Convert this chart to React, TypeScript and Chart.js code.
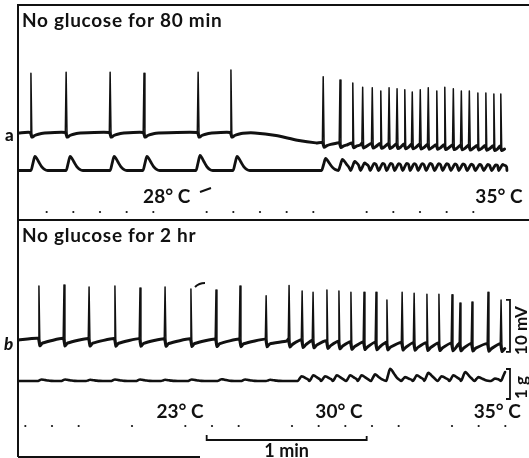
import React, { useEffect, useRef } from 'react';
import { Chart, registerables } from 'chart.js';

Chart.register(...registerables);

// Time in s from start of each record; membrane potential in mV (0 = initial level); tension in g.

// ---- Record a: no glucose for 80 min ----
const spikeTimesA = [4.1, 17.3, 33.8, 46.5, 66.8, 79.1, 113.7, 120.0, 124.8, 128.5, 132.1, 135.3, 138.4, 141.4, 144.3, 147.1, 150.1, 153.1, 156.3, 159.3, 162.5, 165.5, 168.5, 171.7, 174.7, 177.7, 180.3];
const spikePeaksA = [11.5, 11.7, 11.7, 11.5, 11.7, 12.1, 10.8, 10.2, 9.6, 8.8, 8.7, 8.1, 8.7, 8.5, 8.3, 7.9, 8.3, 8.7, 8.1, 8.8, 8.5, 8.1, 8.1, 7.7, 7.7, 7.5, 7.5];
const baseTimesA = [-0.5, 88, 96, 104, 111, 182.6];
const baseLevelsA = [0, 0, -0.5, -1.4, -1.9, -2.6];
const twitchTimesA = [5.6, 18.8, 35.3, 47.6, 67.5, 81.4, 114.6, 120.9, 125.5, 129.2, 132.8, 136.0, 139.0, 142.0, 145.0, 147.8, 150.8, 153.8, 157.0, 160.0, 163.1, 166.1, 169.2, 172.3, 175.4, 178.4, 181.0];
const twitchAmpsA = [0.47, 0.47, 0.47, 0.47, 0.5, 0.47, 0.4, 0.37, 0.3, 0.25, 0.24, 0.24, 0.24, 0.23, 0.24, 0.23, 0.23, 0.24, 0.23, 0.23, 0.22, 0.22, 0.21, 0.2, 0.2, 0.19, 0.2];
const recordEndA = 182.6;
const markerTimesA = [10, 20, 30, 40, 50, 70, 80, 90, 100, 110, 130, 140, 150, 160, 170];
const tempLabelsA = ['28° C', '35° C'];
const tempTimesA = [55, 179.6];

// ---- Record b: no glucose for 2 hr ----
const spikeTimesB = [7.1, 16.5, 25.9, 35.6, 45.0, 54.4, 64.1, 73.5, 82.5, 92.3, 100.9, 105.8, 109.9, 115.1, 119.6, 124.1, 129.0, 133.5, 137.6, 143.3, 147.8, 152.6, 157.1, 162.0, 165.0, 169.5, 175.5, 180.4];
const spikePeaksB = [10.4, 10.6, 10.2, 10.4, 10.0, 10.2, 9.8, 9.6, 10.4, 8.5, 10.5, 9.4, 9.2, 9.6, 9.4, 9.2, 9.2, 9.2, 7.7, 9.2, 9.0, 8.8, 8.8, 8.7, 7.1, 7.3, 9.2, 7.7];
const baseTimesB = [-0.5, 100, 125, 182.6];
const baseLevelsB = [0, -0.2, -0.7, -1.1];
const twitchTimesB = [8.1, 16.9, 26.3, 35.6, 45.0, 54.4, 64.4, 75.6, 84.4, 93.8, 105.6, 110.0, 114.4, 118.8, 123.8, 128.1, 133.1, 138.8, 144.4, 148.8, 153.1, 158.1, 162.5, 166.9, 171.9, 178.1, 181.9];
const twitchAmpsB = [0.05, 0.05, 0.04, 0.05, 0.05, 0.04, 0.05, 0.06, 0.05, 0.04, 0.16, 0.19, 0.16, 0.19, 0.19, 0.19, 0.22, 0.41, 0.13, 0.19, 0.27, 0.16, 0.19, 0.3, 0.13, 0.08, 0.3];
const recordEndB = 182.6;
const forceEndB = 181.9;
const markerTimesB = [2, 12, 22, 42, 62, 72, 82, 102, 112, 122, 132, 142, 162, 172, 182];
const tempLabelsB = ['23° C', '30° C', '35° C'];
const tempTimesB = [60, 119.6, 179];

// ---- Calibrations ----
const timeBarStart = 70; // s
const timeBarLength = 60; // s (1 min)
const mvBarFrom = -2.3; // mV, record b
const mvBarSize = 10; // mV
const gBarFrom = -0.6; // g, record b
const gBarSize = 1; // g

// ---- Layout (pixels) ----
const W = 529;
const H = 458;
const X0 = 20;
const PX_PER_S = 160 / 60;
const PX_PER_MV = 5.2;
const PX_PER_G = 30;
const INK = '#111';
const FONT = 'Lato';

function yAxis(zeroPx: number, pxPerUnit: number) {
  return { type: 'linear' as const, display: false, min: -(H - zeroPx) / pxPerUnit, max: zeroPx / pxPerUnit };
}

function baseAt(t: number, bt: number[], bv: number[]) {
  if (t <= bt[0]) return bv[0];
  for (let i = 1; i < bt.length; i++) {
    if (t <= bt[i]) {
      const f = (t - bt[i - 1]) / (bt[i] - bt[i - 1]);
      return bv[i - 1] + f * (bv[i] - bv[i - 1]);
    }
  }
  return bv[bv.length - 1];
}

type P = { x: number; y: number | null };

function membraneTrace(spT: number[], bt: number[], bv: number[], end: number, dip: number, pre: number, rec: number[][]) {
  const pts: P[] = [];
  bt.forEach((t, i) => {
    if (t < spT[0] - 0.5 || t > spT[spT.length - 1] + 3 || (t > 84 && t < 112)) pts.push({ x: t, y: bv[i] });
  });
  spT.forEach((ts, i) => {
    const next = i + 1 < spT.length ? spT[i + 1] : end + 10;
    const b = baseAt(ts, bt, bv);
    pts.push({ x: ts - 0.3, y: b + pre });
    pts.push({ x: ts + 0.35, y: b - dip });
    rec.forEach(([d, f]) => {
      if (ts + d < next - 0.8 && ts + d < end) pts.push({ x: ts + d, y: baseAt(ts + d, bt, bv) - dip * f });
    });
  });
  pts.sort((a, b) => a.x - b.x);
  return pts.filter((p) => p.x <= end);
}

function spikeTrace(spT: number[], peaks: number[], bt: number[], bv: number[], dip: number, pre: number) {
  const pts: P[] = [];
  spT.forEach((ts, i) => {
    const b = baseAt(ts, bt, bv);
    pts.push({ x: ts - 0.3, y: b + pre });
    pts.push({ x: ts, y: peaks[i] });
    pts.push({ x: ts + 0.35, y: b - dip });
    pts.push({ x: ts + 0.4, y: null });
  });
  return pts;
}

function forceTrace(tT: number[], tA: number[], end: number) {
  const rise = 1.5;
  const decay = [[0.7, 0.85], [1.5, 0.58], [2.5, 0.28], [3.6, 0.08], [4.8, 0]];
  const pts: P[] = [{ x: -0.5, y: 0 }];
  tT.forEach((tp, i) => {
    const A = tA[i];
    const nextOnset = i + 1 < tT.length ? tT[i + 1] - rise : end + 10;
    pts.push({ x: tp - rise, y: 0 });
    pts.push({ x: tp - rise * 0.5, y: A * 0.5 });
    pts.push({ x: tp, y: A });
    decay.forEach(([d, f]) => {
      if (tp + d < nextOnset - 0.2 && tp + d <= end) pts.push({ x: tp + d, y: A * f });
    });
  });
  const last = pts[pts.length - 1];
  if (last.x < end) pts.push({ x: end, y: 0 });
  return pts;
}

const figurePlugin = {
  id: 'figureText',
  afterDatasetsDraw(chart: any) {
    const { ctx, scales } = chart;
    const xs = scales.x;
    ctx.save();
    ctx.fillStyle = INK;
    ctx.strokeStyle = INK;
    ctx.lineCap = 'butt';
    // frame
    ctx.lineWidth = 2;
    ctx.beginPath();
    ctx.moveTo(18, 457);
    ctx.lineTo(18, 5);
    ctx.lineTo(W, 5);
    ctx.moveTo(18, 220);
    ctx.lineTo(W, 220);
    ctx.moveTo(18, 457);
    ctx.lineTo(200, 457);
    ctx.stroke();

    // titles
    ctx.textBaseline = 'alphabetic';
    ctx.textAlign = 'left';
    ctx.font = `bold 19px ${FONT}`;
    (ctx as any).letterSpacing = '0.7px';
    ctx.fillText('No glucose for 80 min', 22, 27);
    ctx.fillText('No glucose for 2 hr', 22, 242);
    (ctx as any).letterSpacing = '0px';

    // panel letters
    ctx.font = `900 17px ${FONT}`;
    ctx.fillText('a', 5, 141);
    ctx.font = `italic 900 17px ${FONT}`;
    ctx.fillText('b', 4, 350);

    // temperatures
    ctx.font = `bold 19px ${FONT}`;
    ctx.textAlign = 'center';
    tempLabelsA.forEach((s, i) => ctx.fillText(s, xs.getPixelForValue(tempTimesA[i]), 203));
    tempLabelsB.forEach((s, i) => ctx.fillText(s, xs.getPixelForValue(tempTimesB[i]), 418));

    // time markers
    markerTimesA.forEach((t) => {
      ctx.beginPath();
      ctx.arc(xs.getPixelForValue(t), 212, 1.1, 0, Math.PI * 2);
      ctx.fill();
    });
    markerTimesB.forEach((t) => {
      ctx.beginPath();
      ctx.arc(xs.getPixelForValue(t), 426, 1.1, 0, Math.PI * 2);
      ctx.fill();
    });

    // 1 min bar
    const bx0 = xs.getPixelForValue(timeBarStart);
    const bx1 = xs.getPixelForValue(timeBarStart + timeBarLength);
    ctx.lineWidth = 1.8;
    ctx.beginPath();
    ctx.moveTo(bx0, 435);
    ctx.lineTo(bx0, 440);
    ctx.lineTo(bx1, 440);
    ctx.lineTo(bx1, 436);
    ctx.stroke();
    ctx.font = `bold 18px ${FONT}`;
    ctx.fillText('1 min', (bx0 + bx1) / 2, 457);

    // 10 mV and 1 g brackets
    const vB = scales.vB;
    const fB = scales.fB;
    const bracket = (y0: number, y1: number) => {
      ctx.beginPath();
      ctx.moveTo(506, y0);
      ctx.lineTo(510, y0);
      ctx.lineTo(510, y1);
      ctx.lineTo(506, y1);
      ctx.stroke();
    };
    const mvTop = vB.getPixelForValue(mvBarFrom + mvBarSize);
    const mvBot = vB.getPixelForValue(mvBarFrom);
    const gTop = fB.getPixelForValue(gBarFrom + gBarSize);
    const gBot = fB.getPixelForValue(gBarFrom);
    bracket(mvTop, mvBot);
    bracket(gTop, gBot);
    ctx.textAlign = 'left';
    ctx.font = `bold 17px ${FONT}`;
    ctx.save();
    ctx.translate(527, mvBot + 3);
    ctx.rotate(-Math.PI / 2);
    ctx.fillText('10 mV', 0, 0);
    ctx.restore();
    ctx.save();
    ctx.translate(527, gBot);
    ctx.rotate(-Math.PI / 2);
    ctx.fillText('1 g', 0, 0);
    ctx.restore();

    // pen marks
    ctx.lineWidth = 2;
    ctx.beginPath();
    ctx.moveTo(200, 192);
    ctx.lineTo(211, 188);
    ctx.moveTo(195, 287);
    ctx.quadraticCurveTo(199, 283, 205, 283);
    ctx.stroke();
    ctx.restore();
  },
};

export default function App() {
  const ref = useRef<HTMLCanvasElement>(null);
  useEffect(() => {
    if (!ref.current) return;
    const common = { pointRadius: 0, borderColor: INK, fill: false, spanGaps: false, borderJoinStyle: 'round' as const, borderCapStyle: 'round' as const };
    const chart = new Chart(ref.current, {
      type: 'line',
      data: {
        datasets: [
          { ...common, data: membraneTrace(spikeTimesA, baseTimesA, baseLevelsA, recordEndA, 0.8, 0.1, [[1.4, 0.6], [2.8, 0.3], [4.5, 0.05]]) as any, yAxisID: 'vA', borderWidth: 3, tension: 0.2 },
          { ...common, data: spikeTrace(spikeTimesA, spikePeaksA, baseTimesA, baseLevelsA, 0.8, 0.1) as any, yAxisID: 'vA', borderWidth: 1.5, tension: 0 },
          { ...common, data: forceTrace(twitchTimesA, twitchAmpsA, recordEndA) as any, yAxisID: 'fA', borderWidth: 2.8, cubicInterpolationMode: 'monotone' },
          { ...common, data: membraneTrace(spikeTimesB, baseTimesB, baseLevelsB, recordEndB, 1.1, 0.35, [[1.4, 0.5]]) as any, yAxisID: 'vB', borderWidth: 3, tension: 0.15 },
          { ...common, data: spikeTrace(spikeTimesB, spikePeaksB, baseTimesB, baseLevelsB, 1.1, 0.35) as any, yAxisID: 'vB', borderWidth: 1.5, tension: 0 },
          { ...common, data: forceTrace(twitchTimesB, twitchAmpsB, forceEndB) as any, yAxisID: 'fB', borderWidth: 2.6, cubicInterpolationMode: 'monotone' },
        ],
      },
      options: {
        animation: false,
        responsive: false,
        maintainAspectRatio: false,
        devicePixelRatio: 1,
        parsing: false as any,
        normalized: true,
        layout: { padding: 0 },
        events: [],
        plugins: { legend: { display: false }, tooltip: { enabled: false } },
        scales: {
          x: { type: 'linear', display: false, min: -X0 / PX_PER_S, max: (W - X0) / PX_PER_S },
          vA: yAxis(133, PX_PER_MV),
          fA: yAxis(170.5, PX_PER_G),
          vB: yAxis(340, PX_PER_MV),
          fB: yAxis(381, PX_PER_G),
        },
      } as any,
      plugins: [figurePlugin],
    });
    return () => chart.destroy();
  }, []);
  return (
    <div style={{ position: 'fixed', left: 0, top: 0, width: W, height: H, background: '#fff' }}>
      <canvas ref={ref} width={W} height={H} style={{ display: 'block', width: W, height: H }} />
    </div>
  );
}
